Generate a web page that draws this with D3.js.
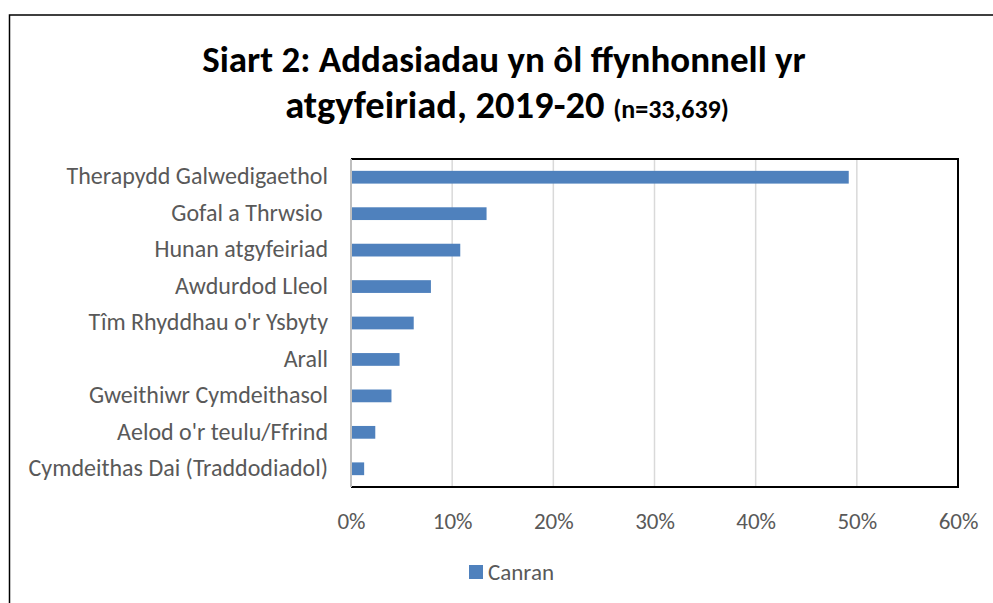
<!DOCTYPE html>
<html>
<head>
<meta charset="utf-8">
<script src="https://cdn.jsdelivr.net/npm/d3@7"></script>
<style>
  html, body { margin: 0; padding: 0; background: #fff; }
  svg { display: block; font-family: Calibri, Carlito, Lato, sans-serif; }
</style>
</head>
<body>
<svg id="chart" width="993" height="603"></svg>
<script>
var categories = [
  'Therapydd Galwedigaethol',
  'Gofal a Thrwsio ',
  'Hunan atgyfeiriad',
  'Awdurdod Lleol',
  "Tîm Rhyddhau o'r Ysbyty",
  'Arall',
  'Gweithiwr Cymdeithasol',
  "Aelod o'r teulu/Ffrind",
  'Cymdeithas Dai (Traddodiadol)'
];
var canran = [0.492, 0.134, 0.108, 0.079, 0.062, 0.048, 0.040, 0.024, 0.013];
var xTicks = [0, 0.1, 0.2, 0.3, 0.4, 0.5, 0.6];
var seriesName = 'Canran';

var svg = d3.select('#chart');
var blue = '#4f81bd', grey = '#595959';

// outer chart frame (runs off the right and bottom edge)
svg.append('rect')
  .attr('x', 9.5).attr('y', 15).attr('width', 1000).attr('height', 620)
  .attr('fill', 'none').attr('stroke', '#000').attr('stroke-width', 1.5);

// title
var title = svg.append('g').attr('text-anchor', 'middle').attr('font-weight', 'bold').attr('fill', '#000');
title.append('text').attr('x', 504).attr('y', 72).attr('font-size', 37)
  .text('Siart 2: Addasiadau yn ôl ffynhonnell yr');
var t2 = title.append('text').attr('x', 507).attr('y', 118).attr('font-size', 38.5);
t2.append('tspan').text('atgyfeiriad, 2019-20 ');
t2.append('tspan').attr('font-size', 26).text('(n=33,639)');

var x = d3.scaleLinear().domain([0, 0.6]).range([351, 958]);
var y = d3.scaleBand().domain(categories).range([159, 487]).paddingInner(0.65).paddingOuter(0.325);

// gridlines
svg.append('g').selectAll('line').data(xTicks.slice(1, -1)).enter().append('line')
  .attr('x1', function(d){ return x(d); }).attr('x2', function(d){ return x(d); })
  .attr('y1', 159).attr('y2', 487)
  .attr('stroke', '#d9d9d9').attr('stroke-width', 1.5);

// bars
svg.append('g').selectAll('rect').data(categories).enter().append('rect')
  .attr('x', x(0))
  .attr('y', function(d){ return y(d); })
  .attr('width', function(d, i){ return x(canran[i]) - x(0); })
  .attr('height', y.bandwidth())
  .attr('fill', blue);

// plot frame
svg.append('path')
  .attr('d', 'M351,159H958V487H351')
  .attr('fill', 'none').attr('stroke', '#000').attr('stroke-width', 2);
svg.append('line').attr('x1', 351).attr('x2', 351).attr('y1', 159).attr('y2', 487)
  .attr('stroke', '#bfbfbf').attr('stroke-width', 2);

// x axis labels
var xAxis = svg.append('g').attr('transform', 'translate(0,510)')
  .call(d3.axisBottom(x).tickValues(xTicks).tickFormat(d3.format('.0%')).tickSize(0))
  .attr('font-family', null).attr('font-size', 23);
xAxis.select('.domain').remove();
xAxis.selectAll('text').attr('fill', grey);

// y axis labels
var yAxis = svg.append('g').attr('transform', 'translate(351,0)')
  .call(d3.axisLeft(y).tickSize(0).tickPadding(23))
  .attr('font-family', null).attr('font-size', 24);
yAxis.select('.domain').remove();
yAxis.selectAll('text').attr('fill', grey).attr('dy', '0.3em').style('white-space', 'pre');

// legend
var legend = svg.append('g').attr('transform', 'translate(469,565)');
legend.append('rect').attr('width', 14).attr('height', 14).attr('fill', blue);
legend.append('text').attr('x', 19).attr('y', 15).attr('font-size', 23).attr('fill', grey).text(seriesName);
</script>
</body>
</html>
